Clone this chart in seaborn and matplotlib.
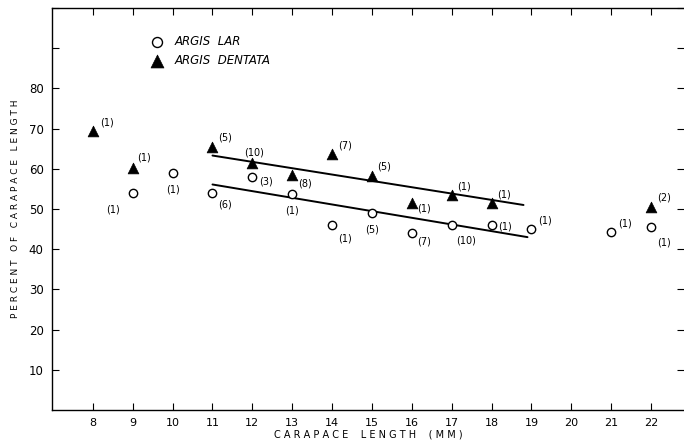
import matplotlib
matplotlib.use("Agg")
import matplotlib.pyplot as plt
import seaborn as sns
import pandas as pd

# ---- data ----
lar_x = [9, 10, 11, 12, 13, 14, 15, 16, 17, 18, 19, 21, 22]
lar_y = [54, 59, 54, 58, 53.7, 46, 49, 44, 46, 46, 45, 44.3, 45.5]
lar_n = ["(1)", "(1)", "(6)", "(3)", "(1)", "(1)", "(5)", "(7)", "(10)", "(1)", "(1)", "(1)", "(1)"]

den_x = [8, 9, 11, 12, 13, 14, 15, 16, 17, 18, 22]
den_y = [69.5, 60.3, 65.3, 61.4, 58.5, 63.6, 58.2, 51.6, 53.6, 51.6, 50.5]
den_n = ["(1)", "(1)", "(5)", "(10)", "(8)", "(7)", "(5)", "(1)", "(1)", "(1)", "(2)"]

lar_fit_x = [11, 18.9]
lar_fit_y = [56.1, 43.0]
den_fit_x = [11, 18.8]
den_fit_y = [63.3, 51.0]

x_ticks = list(range(8, 23))
y_ticks = list(range(10, 101, 10))
y_labels = [str(v) if v <= 80 else "" for v in y_ticks]

# label offsets (points) for the sample-size annotations
lar_off = [(-14, -12), (0, -12), (4, -8), (5, -3), (0, -12), (4, -10), (0, -12),
           (4, -6), (3, -11), (5, -1), (5, 6), (5, 6), (4, -11)]
den_off = [(5, 6), (3, 7), (4, 7), (1, 8), (4, -6), (4, 6), (4, 7), (4, -4),
           (4, 6), (4, 6), (4, 7)]

sns.set_style("white")
plt.rcParams["font.family"] = ["DejaVu Sans"]
plt.rcParams["text.color"] = "black"
plt.rcParams["xtick.color"] = "black"
plt.rcParams["ytick.color"] = "black"
plt.rcParams["axes.labelcolor"] = "black"

fig = plt.figure(figsize=(6.84, 4.43), dpi=100)
ax = fig.add_axes([52 / 684, 1 - 410 / 443, 1 - 52 / 684, (410 - 8) / 443])

lar = pd.DataFrame({"x": lar_x, "y": lar_y})
den = pd.DataFrame({"x": den_x, "y": den_y})

sns.lineplot(x=lar_fit_x, y=lar_fit_y, ax=ax, color="black", lw=1.4)
sns.lineplot(x=den_fit_x, y=den_fit_y, ax=ax, color="black", lw=1.4)

sns.scatterplot(data=lar, x="x", y="y", ax=ax, marker="o", s=36,
                facecolor="white", edgecolor="black", linewidth=1.0,
                label="ARGIS  LAR", zorder=3)
sns.scatterplot(data=den, x="x", y="y", ax=ax, marker="^", s=60,
                color="black", edgecolor="black", linewidth=0.5,
                label="ARGIS  DENTATA", zorder=3)

for x, y, t, o in zip(lar_x, lar_y, lar_n, lar_off):
    ax.annotate(t, (x, y), xytext=o, textcoords="offset points",
                fontsize=7, ha="left" if o[0] > 2 else "center",
                va="center")
for x, y, t, o in zip(den_x, den_y, den_n, den_off):
    ax.annotate(t, (x, y), xytext=o, textcoords="offset points",
                fontsize=7, ha="left" if o[0] > 2 else "center",
                va="center")

ax.set_xlim(6.975, 22.825)
ax.set_ylim(0, 100)
ax.set_xticks(x_ticks)
ax.set_xticklabels([str(v) for v in x_ticks], fontsize=8)
ax.set_yticks(y_ticks)
ax.set_yticklabels(y_labels, fontsize=8.5)
ax.tick_params(direction="in", length=5, width=0.8, top=True, right=True,
               bottom=True, left=True, pad=6)
for s in ["left", "bottom", "top"]:
    ax.spines[s].set_color("black")
    ax.spines[s].set_linewidth(1.0)
ax.spines["right"].set_visible(False)

ax.set_xlabel("C A R A P A C E    L E N G T H    ( M M )", fontsize=7, labelpad=1)
ax.set_ylabel("P E R C E N T   O F   C A R A P A C E   L E N G T H", fontsize=6.5, labelpad=6)

leg = ax.legend(loc="upper left", bbox_to_anchor=(0.14, 0.945), frameon=False,
                fontsize=8.5, handletextpad=0.5, labelspacing=0.55,
                borderaxespad=0, markerscale=1.2)
for t in leg.get_texts():
    t.set_fontstyle("italic")

fig.savefig("out.png", dpi=100)
